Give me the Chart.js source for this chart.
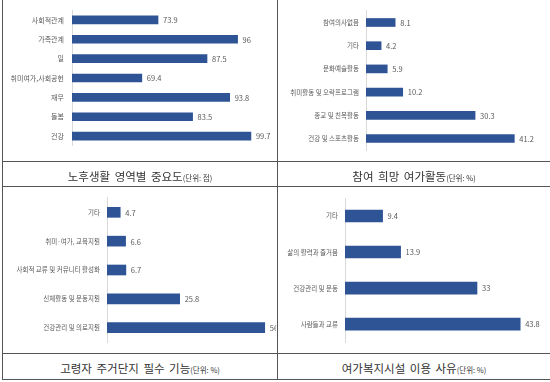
<!DOCTYPE html>
<html><head><meta charset="utf-8">
<script src="https://cdn.jsdelivr.net/npm/chart.js@4"></script>
<style>
html,body{margin:0;padding:0;background:#fff;width:550px;height:382px;overflow:hidden;}
#wrap{position:relative;width:550px;height:382px;}
canvas{position:absolute;}
.ln{position:absolute;background:#555;}
.cap{position:absolute;text-align:center;font-family:"Noto Sans CJK KR","Noto Sans",sans-serif;color:#333;white-space:nowrap;}
.cap .m{font-size:11.5px;word-spacing:2px;}
.cap .u{font-size:7.5px;}
</style></head>
<body><div id="wrap">
<canvas id="c1" width="273" height="160" style="left:3px;top:-2px"></canvas>
<canvas id="c2" width="271" height="161" style="left:278px;top:0px"></canvas>
<canvas id="c3" width="273" height="166" style="left:3px;top:187px"></canvas>
<canvas id="c4" width="271" height="166" style="left:278px;top:187px"></canvas>

<div class="ln" style="left:2px;top:0;width:1px;height:380px"></div>
<div class="ln" style="left:277px;top:0;width:1px;height:380px"></div>
<div class="ln" style="left:2px;top:161px;width:548px;height:1px"></div>
<div class="ln" style="left:2px;top:186px;width:548px;height:1px"></div>
<div class="ln" style="left:2px;top:353px;width:548px;height:1px"></div>
<div class="ln" style="left:2px;top:379px;width:548px;height:1px"></div>

<div class="cap" style="left:3px;width:274px;top:162px;line-height:24px"><span class="m">노후생활 영역별 중요도</span><span class="u">(단위: 점)</span></div>
<div class="cap" style="left:278px;width:272px;top:162px;line-height:24px"><span class="m">참여 희망 여가활동</span><span class="u">(단위: %)</span></div>
<div class="cap" style="left:3px;width:274px;top:354px;line-height:25px"><span class="m">고령자 주거단지 필수 기능</span><span class="u">(단위: %)</span></div>
<div class="cap" style="left:278px;width:272px;top:354px;line-height:25px"><span class="m">여가복지시설 이용 사유</span><span class="u">(단위: %)</span></div>
</div>
<script>
// Panel 1: 노후생활 영역별 중요도 (단위: 점)
const cat1 = ["사회적관계","가족관계","일","취미여가,사회공헌","재무","돌봄","건강"];
const val1 = [73.9, 96, 87.5, 69.4, 93.8, 83.5, 99.7];
// Panel 2: 참여 희망 여가활동 (단위: %)
const cat2 = ["참여의사없음","기타","문화예술활동","취미활동 및 오락프로그램","종교 및 친목활동","건강 및 스포츠활동"];
const val2 = [8.1, 4.2, 5.9, 10.2, 30.3, 41.2];
// Panel 3: 고령자 주거단지 필수 기능 (단위: %)
const cat3 = ["기타","취미·여가, 교육지원","사회적 교류 및 커뮤니티 활성화","신체활동 및 운동지원","건강관리 및 의료지원"];
const val3 = [4.7, 6.6, 6.7, 25.8, 56];
// Panel 4: 여가복지시설 이용 사유 (단위: %)
const cat4 = ["기타","삶의 활력과 즐거움","건강관리 및 운동","사람들과 교류"];
const val4 = [9.4, 13.9, 33, 43.8];

const FONT = '"Noto Sans CJK KR","Noto Sans",sans-serif';
const BAR = '#2f5496';

const valueLabels = {
  id: 'valueLabels',
  afterDatasetsDraw(chart, args, opts) {
    const ctx = chart.ctx;
    const meta = chart.getDatasetMeta(0);
    const data = chart.data.datasets[0].data;
    ctx.save();
    ctx.font = (opts.size || 7.5) + 'px ' + FONT;
    ctx.fillStyle = '#595959';
    ctx.textAlign = 'left';
    ctx.textBaseline = 'middle';
    meta.data.forEach((el, i) => {
      ctx.fillText(String(data[i]), el.x + 5, el.y + 0.5);
    });
    ctx.restore();
  }
};

function makeChart(id, cats, vals, o) {
  new Chart(document.getElementById(id), {
    type: 'bar',
    data: { labels: cats, datasets: [{ data: vals, backgroundColor: BAR, barThickness: o.thick }] },
    options: {
      indexAxis: 'y',
      responsive: false,
      animation: false,
      devicePixelRatio: 1,
      layout: { padding: { top: o.pt, bottom: o.pb, left: 0, right: o.pr } },
      plugins: { legend: { display: false }, tooltip: { enabled: false }, valueLabels: { size: o.vs } },
      scales: {
        x: { display: false, min: o.min, max: o.max },
        y: {
          afterFit: s => { s.width = o.yw; },
          grid: { display: false, drawTicks: false },
          border: { display: true, color: '#d9d9d9', width: 1 },
          ticks: { color: '#595959', padding: o.tp, font: { family: FONT, size: o.fs }, autoSkip: false }
        }
      }
    },
    plugins: [valueLabels]
  });
}

makeChart('c1', cat1, val1, { thick: 8, pt: 0, pb: 0, pr: 24, yw: 69, min: 50, max: 100, tp: 8, fs: 7, vs: 7.5 });
makeChart('c2', cat2, val2, { thick: 8, pt: 9, pb: 4, pr: 21, yw: 88, min: 0, max: 45, tp: 7, fs: 6.5, vs: 7.5 });
makeChart('c3', cat3, val3, { thick: 10, pt: 7, pb: 5, pr: 0, yw: 104, min: 0, max: 60, tp: 7, fs: 6.5, vs: 7.5 });
makeChart('c4', cat4, val4, { thick: 12, pt: 11, pb: 6, pr: 4, yw: 67, min: 0, max: 50, tp: 7, fs: 6.5, vs: 7.5 });
</script>
</body></html>
